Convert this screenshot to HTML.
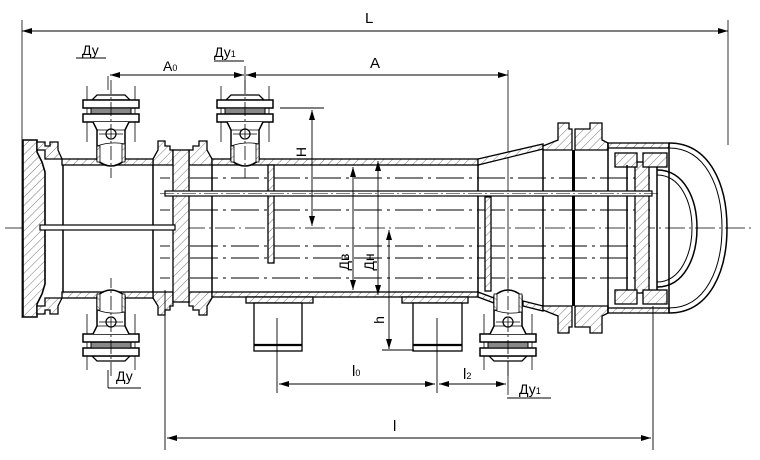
<!DOCTYPE html>
<html><head><meta charset="utf-8"><style>
html,body{margin:0;padding:0;background:#fff;}
svg{display:block;}
text{font-family:"Liberation Sans","DejaVu Sans",sans-serif;fill:#000;}
</style></head><body>
<svg width="760" height="460" viewBox="0 0 760 460" xmlns="http://www.w3.org/2000/svg">
<defs>
<pattern id="h" width="6" height="6" patternUnits="userSpaceOnUse" patternTransform="rotate(45)">
<rect width="6" height="6" fill="#fff"/><line x1="0" y1="0" x2="0" y2="6" stroke="#555" stroke-width="0.8"/></pattern>
<marker id="a" viewBox="0 0 10 6" refX="10" refY="3" markerWidth="10" markerHeight="6" orient="auto-start-reverse" markerUnits="userSpaceOnUse">
<path d="M0,0 L10,3 L0,6 Z" fill="#000"/></marker>
<g id="noz" stroke="#000" fill="#fff">
<line x1="-24" y1="86" x2="-24" y2="142" stroke-width="0.8"/>
<line x1="24" y1="86" x2="24" y2="142" stroke-width="0.8"/>
<path d="M-14,95 H14 L19,100 H-19 Z" stroke-width="1.3"/>
<rect x="-28" y="100" width="56" height="8" stroke-width="1.5"/>
<rect x="-20" y="108" width="40" height="6" fill="#888" stroke-width="1"/>
<rect x="-28" y="114" width="56" height="8" stroke-width="1.5"/>
<path d="M-18,122 L-14,130 V160 Q0,172 14,160 V130 L18,122" stroke-width="1.5"/>
<line x1="-14" y1="130" x2="14" y2="130" stroke-width="0.8"/>
<path d="M-14,146 Q0,141 14,144" fill="none" stroke-width="0.8"/>
<rect x="-14" y="146" width="3" height="16" fill="url(#h)" stroke-width="0.8"/>
<rect x="11" y="144" width="3" height="18" fill="url(#h)" stroke-width="0.8"/>
<circle cx="0" cy="134" r="5" stroke-width="1.2"/>
<line x1="-12" y1="134" x2="12" y2="134" stroke-width="0.8"/>
<line x1="0" y1="80" x2="0" y2="178" stroke-width="0.8" stroke-dasharray="14,3,2,3"/>
</g>
</defs>
<g stroke="#000" fill="none">
<!-- L dimension -->
<line x1="22" y1="20" x2="22" y2="318" stroke-width="0.8"/>
<line x1="728" y1="20" x2="728" y2="145" stroke-width="0.8"/>
<line x1="22" y1="31" x2="728" y2="31" stroke-width="1" marker-start="url(#a)" marker-end="url(#a)"/>
<!-- A0, A -->
<line x1="108" y1="90" x2="108" y2="76" stroke-width="0.8"/>
<line x1="245" y1="90" x2="245" y2="66" stroke-width="0.8"/>
<line x1="508" y1="70" x2="508" y2="395" stroke-width="0.8"/>
<line x1="110" y1="75" x2="244" y2="75" stroke-width="1" marker-start="url(#a)" marker-end="url(#a)"/>
<line x1="246" y1="75" x2="508" y2="75" stroke-width="1" marker-start="url(#a)" marker-end="url(#a)"/>
<line x1="76" y1="58" x2="106" y2="58" stroke-width="1"/>
<line x1="214" y1="61" x2="244" y2="61" stroke-width="1"/>
<!-- centre line -->
<line x1="5" y1="228" x2="755" y2="228" stroke-width="0.8" stroke-dasharray="20,4,2,4"/>
<!-- tube lines -->
<g stroke-width="0.9" stroke-dasharray="28,5,3,5">
<line x1="190" y1="178" x2="650" y2="178"/>
<line x1="190" y1="210" x2="650" y2="210"/>
<line x1="190" y1="246" x2="650" y2="246"/>
<line x1="190" y1="258" x2="650" y2="258"/>
<line x1="190" y1="278" x2="650" y2="278"/>
</g>
<g stroke-width="0.9" stroke-dasharray="10,16">
<line x1="160" y1="178" x2="185" y2="178"/><line x1="160" y1="210" x2="185" y2="210"/>
<line x1="160" y1="246" x2="185" y2="246"/><line x1="160" y1="258" x2="185" y2="258"/>
<line x1="160" y1="278" x2="185" y2="278"/>
</g>
</g>
<!-- left cover -->
<path d="M23,140 H37 V152 L42,162 L45,172 V284 L42,294 L37,304 V317 H23 Z" fill="url(#h)" stroke="#000" stroke-width="1.6"/>
<!-- left chamber flanges -->
<g fill="url(#h)" stroke="#000" stroke-width="1.3">
<path d="M37,142 H45 V146 H50 V142 H58 V150 L62,159 H45 V150 H37 Z"/>
<path d="M37,314 H45 V310 H50 V314 H58 V306 L62,298 H45 V306 H37 Z"/>
<path d="M153,159 L158,150 V141 H165 V146 H170 V150 H173 V165 H153 Z"/>
<path d="M153,298 L158,306 V315 H165 V310 H170 V306 H173 V292 H153 Z"/>
<path d="M212,159 L207,150 V141 H199 V146 H193 V150 H189 V165 H212 Z"/>
<path d="M212,298 L207,306 V315 H199 V310 H193 V306 H189 V292 H212 Z"/>
<rect x="173" y="150" width="16" height="152"/>
<!-- chamber walls -->
<rect x="62" y="159" width="91" height="6"/>
<rect x="62" y="292" width="91" height="6"/>
<!-- shell -->
<rect x="212" y="159" width="266" height="6"/>
<rect x="212" y="292" width="266" height="5"/>
<path d="M478,159 L543,144 V149 L478,165 Z"/>
<path d="M478,292 L494,298 V303 L478,297 Z"/>
<path d="M523,301 L543,306 V311 L523,306 Z"/>
<!-- baffles -->
<rect x="268" y="165" width="6" height="98"/>
<rect x="485" y="197" width="6" height="94"/>
<!-- right flanges -->
<path d="M543,146 L558,140 V123 H569 V129 H572 V150 H543 Z"/>
<path d="M543,310 L558,316 V333 H569 V327 H572 V306 H543 Z"/>
<path d="M608,143 L602,140 V123 H590 V129 H575 V150 H608 Z"/>
<path d="M608,313 L602,316 V333 H590 V327 H575 V306 H608 Z"/>
<!-- cover shell -->
<rect x="608" y="143" width="61" height="5"/>
<rect x="608" y="308" width="61" height="5"/>
<!-- floating head -->
<rect x="635" y="162" width="14" height="131"/>
<rect x="615" y="153" width="22" height="14"/><rect x="643" y="153" width="24" height="14"/>
<rect x="615" y="290" width="22" height="14"/><rect x="643" y="290" width="24" height="14"/>
</g>
<rect x="572" y="150" width="3" height="156" fill="#000"/>
<g stroke="#000" fill="none" stroke-width="1.5">
<line x1="63" y1="165" x2="63" y2="292"/>
<line x1="153" y1="165" x2="153" y2="292"/>
<line x1="212" y1="165" x2="212" y2="292"/>
<line x1="478" y1="165" x2="478" y2="292"/>
<line x1="543" y1="149" x2="543" y2="306"/>
<line x1="608" y1="143" x2="608" y2="313"/>
<line x1="627" y1="165" x2="627" y2="290"/>
<line x1="657" y1="167" x2="657" y2="290"/>
<!-- domes -->
<path d="M669,143 C710,143 727,185 727,228 C727,271 710,313 669,313"/>
<path d="M669,148 C706,148 722,188 722,228 C722,268 706,308 669,308" stroke-width="1"/>
<path d="M657,170 C685,170 697,200 697,228 C697,256 685,287 657,287"/>
<path d="M657,175 C681,175 692,203 692,228 C692,253 681,282 657,282" stroke-width="1"/>
<line x1="669" y1="143" x2="669" y2="313"/>
</g>
<!-- tie rods -->
<rect x="40" y="225" width="135" height="5" fill="#fff" stroke="#000" stroke-width="1.2"/>
<rect x="165" y="191" width="487" height="5" fill="#fff" stroke="#000" stroke-width="1.2"/>
<line x1="160" y1="193.5" x2="660" y2="193.5" stroke="#000" stroke-width="0.6" stroke-dasharray="14,3,2,3"/>
<!-- nozzles -->
<use href="#noz" transform="translate(111,0)"/>
<use href="#noz" transform="translate(245,0)"/>
<use href="#noz" transform="translate(111,456) scale(1,-1)"/>
<use href="#noz" transform="translate(508,456) scale(1,-1)"/>
<!-- supports -->
<g stroke="#000" stroke-width="1.3" fill="#fff">
<rect x="246" y="297" width="67" height="6" fill="url(#h)"/>
<rect x="254" y="303" width="48" height="48"/>
<rect x="402" y="297" width="66" height="6" fill="url(#h)"/>
<rect x="413" y="303" width="49" height="48"/>
</g>
<g stroke="#000">
<line x1="254" y1="345" x2="302" y2="345" stroke-width="2.2"/>
<line x1="413" y1="345" x2="462" y2="345" stroke-width="2.2"/>
</g>
<!-- dimensions -->
<g stroke="#000" fill="none" stroke-width="0.9">
<line x1="280" y1="108" x2="324" y2="108"/>
<line x1="312" y1="110" x2="312" y2="226" marker-start="url(#a)" marker-end="url(#a)"/>
<line x1="353" y1="167" x2="353" y2="290" marker-start="url(#a)" marker-end="url(#a)"/>
<line x1="378" y1="161" x2="378" y2="295" marker-start="url(#a)" marker-end="url(#a)"/>
<line x1="389" y1="230" x2="389" y2="349" marker-start="url(#a)" marker-end="url(#a)"/>
<line x1="382" y1="350" x2="414" y2="350"/>
<line x1="277" y1="318" x2="277" y2="393"/>
<line x1="437" y1="318" x2="437" y2="393"/>
<line x1="279" y1="384" x2="435" y2="384" marker-start="url(#a)" marker-end="url(#a)"/>
<line x1="439" y1="384" x2="506" y2="384" marker-start="url(#a)" marker-end="url(#a)"/>
<line x1="108" y1="388" x2="141" y2="388"/>
<line x1="108" y1="370" x2="108" y2="388"/>
<line x1="507" y1="398" x2="551" y2="398"/>
<line x1="165" y1="290" x2="165" y2="450"/>
<line x1="653" y1="306" x2="653" y2="450"/>
<line x1="167" y1="438" x2="651" y2="438" marker-start="url(#a)" marker-end="url(#a)"/>
</g>
<!-- labels -->
<text x="365" y="23" font-size="15">L</text>
<text x="82" y="55" font-size="14">Ду</text>
<text x="214" y="57" font-size="14">Ду<tspan font-size="9">1</tspan></text>
<text x="163" y="71" font-size="14">А<tspan font-size="9">0</tspan></text>
<text x="370" y="68" font-size="15">А</text>
<text x="306" y="152" font-size="14" transform="rotate(-90 306 152)" text-anchor="middle">Н</text>
<text x="349" y="262" font-size="14" transform="rotate(-90 349 262)" text-anchor="middle">Дв</text>
<text x="374" y="262" font-size="14" transform="rotate(-90 374 262)" text-anchor="middle">Дн</text>
<text x="384" y="320" font-size="14" transform="rotate(-90 384 320)" text-anchor="middle">h</text>
<text x="352" y="376" font-size="15">l<tspan font-size="9">0</tspan></text>
<text x="463" y="379" font-size="15">l<tspan font-size="9">2</tspan></text>
<text x="116" y="381" font-size="14">Ду</text>
<text x="519" y="394" font-size="14">Ду<tspan font-size="9">1</tspan></text>
<text x="393" y="431" font-size="15">l</text>
</svg>
</body></html>
